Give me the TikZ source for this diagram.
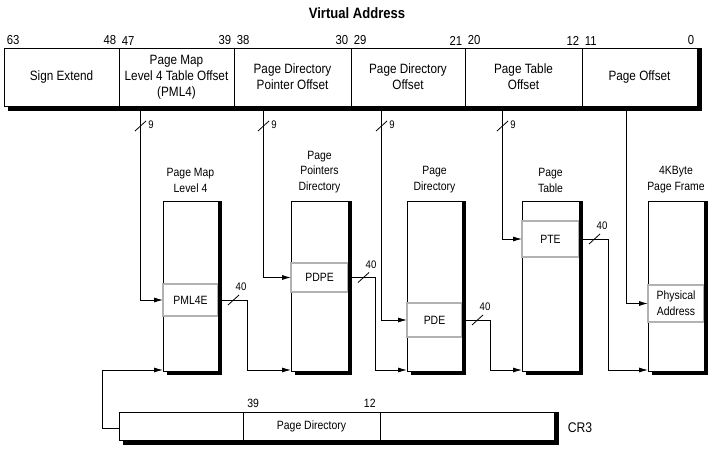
\documentclass[tikz,border=0pt]{standalone}
\usepackage{fontspec}
\setmainfont[FakeStretch=0.87]{Liberation Sans}
\usetikzlibrary{arrows.meta, calc}

\tikzset{
  field/.style={draw, fill=white, inner sep=0pt, outer sep=0pt, anchor=north west,
    align=center, font=\fontsize{13.5}{16}\selectfont},
  bitno/.style={inner sep=2.5pt, font=\fontsize{13}{14}\selectfont},
  tablebox/.style={draw, fill=white, inner sep=0pt, outer sep=0pt, minimum height=170pt,
    anchor=north west},
  entrybox/.style={draw=gray!60, line width=1.6pt, fill=white, inner sep=0pt, outer sep=0pt,
    anchor=north west, align=center, font=\fontsize{12}{16}\selectfont},
  tabletitle/.style={anchor=south, align=center, inner sep=0pt, font=\fontsize{12}{15.5}\selectfont},
  buswidth/.style={inner sep=0pt, font=\fontsize{11}{12}\selectfont},
  busmark/.pic={\draw (-5,5) -- (6,-5);},
  arr/.style={-{Latex[length=9pt,width=5pt]}},
  shadowline/.style={draw=black, fill=black, line width=4pt, line cap=butt},
}

\begin{document}
\begin{tikzpicture}[x=1pt, y=-1pt, line width=0.8pt]
  \useasboundingbox (0,0) rectangle (725,460);
  % title
  \node[font=\fontsize{15}{16}\selectfont\bfseries] (title) at (357,13) {Virtual Address};

  % virtual address bar
  \node[draw, fill=white, inner sep=0pt, minimum width=693pt, minimum height=58pt,
    anchor=north west] (vabar) at (4,48) {};
  \node[field, minimum width=115pt, minimum height=58pt] (f-sign) at (4,48) {Sign Extend};
  \node[field, minimum width=115pt, minimum height=58pt] (f-pml4) at (119,48) {Page Map\\Level 4 Table Offset\\(PML4)};
  \node[field, minimum width=117pt, minimum height=58pt] (f-pdp) at (234,48) {Page Directory\\Pointer Offset};
  \node[field, minimum width=114pt, minimum height=58pt] (f-pd) at (351,48) {Page Directory\\Offset};
  \node[field, minimum width=117pt, minimum height=58pt] (f-pt) at (465,48) {Page Table\\Offset};
  \node[field, minimum width=115pt, minimum height=58pt] (f-off) at (582,48) {Page Offset};

  % bit numbers
  \foreach \f/\hi/\lo in {sign/63/48, pml4/47/39, pdp/38/30, pd/29/21, pt/20/12, off/11/0} {
    \node[bitno, anchor=south west] (b\hi) at (f-\f.north west) {\hi};
    \node[bitno, anchor=south east] (b\lo) at (f-\f.north east) {\lo};
  }

  % tables
  \node[tablebox, minimum width=55pt] (t-pml4) at (163,201) {};
  \node[tablebox, minimum width=57pt] (t-pdpt) at (291,201) {};
  \node[tablebox, minimum width=55pt] (t-pd) at (407,201) {};
  \node[tablebox, minimum width=57pt] (t-pt) at (522,201) {};
  \node[tablebox, minimum width=56pt] (t-page) at (648,201) {};

  \node[tabletitle] (n-pml4) at ([yshift=8pt]t-pml4.north) {Page Map\\Level 4};
  \node[tabletitle] (n-pdpt) at ([yshift=8pt]t-pdpt.north) {Page\\Pointers\\Directory};
  \node[tabletitle] (n-pd) at ([yshift=8pt]t-pd.north) {Page\\Directory};
  \node[tabletitle] (n-pt) at ([yshift=8pt]t-pt.north) {Page\\Table};
  \node[tabletitle] (n-page) at ([yshift=8pt]t-page.north) {4KByte\\Page Frame};

  % entries
  \node[entrybox, minimum width=55pt, minimum height=32pt] (pml4e) at (163,284) {PML4E};
  \node[entrybox, minimum width=57pt, minimum height=29pt] (pdpe) at (291,263) {PDPE};
  \node[entrybox, minimum width=55pt, minimum height=34pt] (pde) at (407,303) {PDE};
  \node[entrybox, minimum width=57pt, minimum height=36pt] (pte) at (522,221) {PTE};
  \node[entrybox, minimum width=56pt, minimum height=37pt] (paddr) at (648,285) {Physical\\Address};

  % CR3
  \node[draw, fill=white, inner sep=0pt, minimum width=435pt, minimum height=28pt,
    anchor=north west] (cr3) at (119,412) {};
  \node[field, minimum width=124pt, minimum height=28pt] (c-lo) at (119,412) {};
  \node[field, minimum width=137pt, minimum height=28pt, font=\fontsize{12}{14}\selectfont] (c-pd) at (243,412) {Page Directory};
  \node[field, minimum width=174pt, minimum height=28pt] (c-hi) at (380,412) {};
  \node[bitno, anchor=south west, inner sep=4pt, font=\fontsize{12}{13}\selectfont] (c39) at (c-pd.north west) {39};
  \node[bitno, anchor=south east, inner sep=4pt, font=\fontsize{12}{13}\selectfont] (c12) at (c-pd.north east) {12};
  \node[font=\fontsize{14}{15}\selectfont] (cr3name) at (580,428) {CR3};

  % index lines from the address bar
  \coordinate (tap1) at (140,106);
  \coordinate (tap2) at (263,106);
  \coordinate (tap3) at (381,106);
  \coordinate (tap4) at (502,106);
  \coordinate (tap5) at (626,106);
  \draw[arr] (tap1) |- (pml4e.west);
  \draw[arr] (tap2) |- (pdpe.west);
  \draw[arr] (tap3) |- (pde.west);
  \draw[arr] (tap4) |- (pte.west);
  \draw[arr] (tap5) |- (paddr.west);
  \foreach \x/\n in {140/1, 263/2, 381/3, 502/4} {
    \pic at (\x,126) {busmark};
    \node[buswidth, anchor=west] (w\n) at (\x+8,125) {9};
  }

  % base addresses to the next table
  \draw[arr] (pml4e.east) -- ++(29,0) |- ([yshift=1pt]t-pdpt.south west);
  \draw[arr] (pdpe.east) -- ++(27,0) |- ([yshift=1pt]t-pd.south west);
  \draw[arr] (pde.east) -- ++(28,0) |- ([yshift=1pt]t-pt.south west);
  \draw[arr] (pte.east) -- ++(29,0) |- ([yshift=1pt]t-page.south west);
  \foreach \e in {pml4e, pdpe, pde, pte} {
    \pic at ([xshift=15pt]\e.east) {busmark};
    \node[buswidth] (w-\e) at ([xshift=23pt, yshift=13pt]\e.east) {40};
  }
  \draw[arr] ([yshift=-2pt]c-lo.west) -- ++(-17,0) |- ([yshift=1pt]t-pml4.south west);

  % black shadows on the right and bottom
  \foreach \b in {vabar, t-pml4, t-pdpt, t-pd, t-pt, t-page, cr3} {
    \path[shadowline] ($(\b.north east)+(2,0)$) -- ($(\b.south east)+(2,4)$);
    \path[shadowline] ($(\b.south west)+(4,2)$) -- ($(\b.south east)+(4,2)$);
  }
\end{tikzpicture}
\end{document}
